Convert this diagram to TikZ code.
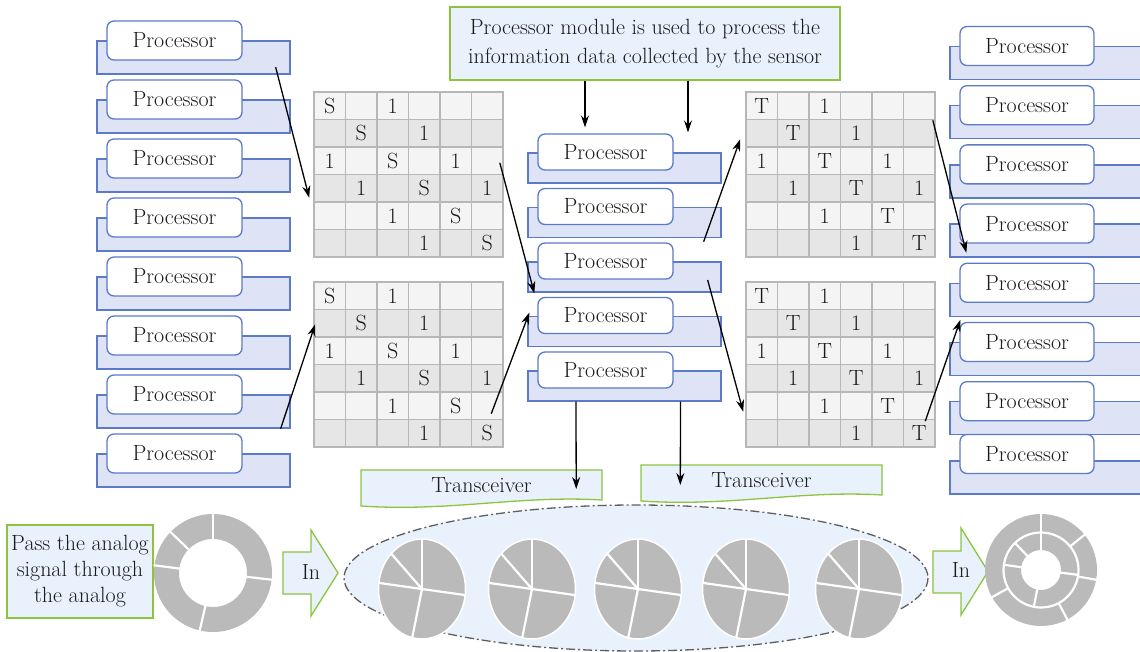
\documentclass[tikz,border=0pt]{standalone}
\usepackage{fontspec}
\usepackage{tikz}
\usetikzlibrary{arrows.meta}

\definecolor{procblue}{HTML}{5B7AC8}
\definecolor{procfill}{HTML}{DEE3F6}
\definecolor{notegreen}{HTML}{8CC43F}
\definecolor{notefill}{HTML}{E9F2FC}
\definecolor{cellA}{HTML}{F4F4F4}
\definecolor{cellB}{HTML}{E6E6E6}
\definecolor{cellline}{HTML}{B7B7B7}
\definecolor{piegray}{HTML}{BABABA}
\definecolor{ringline}{HTML}{5E5E5E}
\definecolor{ink}{HTML}{1A1A1A}

\tikzset{
  back/.style={rectangle, draw=procblue, fill=procfill, line width=1.3pt, minimum width=193pt, minimum height=33pt, inner sep=0pt},
  proc/.style={rectangle, rounded corners=7pt, draw=procblue, fill=white, line width=1.3pt, minimum width=135pt, minimum height=39pt, inner sep=0pt},
  cell/.style={rectangle, draw=cellline, line width=1.6pt, minimum width=31.5pt, minimum height=27.5pt, inner sep=0pt},
  note/.style={rectangle, draw=notegreen, fill=notefill, line width=1.3pt, align=center, inner sep=0pt},
  link/.style={-{Stealth[length=12pt,width=8pt]}, line width=1.3pt},
  sep/.style={white, line width=2.2pt},
}

\begin{document}
\begin{tikzpicture}[x=1pt, y=-1pt, font=\fontsize{22}{26}\selectfont, text=ink]
  \useasboundingbox (0,0) rectangle (1140,652);

  % Processor columns
  \foreach \i [evaluate=\i as \y using 40.5+59*(\i-1)] in {1,...,8}{
    \node[back] (LB\i) at (193.5,\y+17) {};
    \node[proc] (L\i) at (174.5,\y) {Processor};
  }
  \foreach \i/\y/\dy in {1/46/17, 2/105.2/17, 3/164.4/17, 4/223.6/17, 5/282.8/17, 6/342/17, 7/401.2/17, 8/454/23.5}{
    \node[back, minimum width=195pt] (RB\i) at (1047.5,\y+\dy) {};
    \node[proc, minimum width=134pt] (R\i) at (1027,\y) {Processor};
  }
  \foreach \i [evaluate=\i as \y using 152+54.5*(\i-1)] in {1,...,5}{
    \node[back, minimum height=30pt] (CB\i) at (624.5,\y+16) {};
    \node[proc, minimum height=36pt] (C\i) at (605.5,\y) {Processor};
  }

  % Grids
  \foreach \g/\gx/\gy/\sym in {GA/314/92/S, GB/314/282/S, GC/746/92/T, GD/746/282/T}
    \foreach \r in {0,...,5}
      \foreach \c in {0,...,5}{
        \pgfmathtruncatemacro\dist{abs(\r-\c)}
        \pgfmathtruncatemacro\rowodd{mod(\r,2)}
        \ifnum\rowodd=0 \def\cellcol{cellA}\else \def\cellcol{cellB}\fi
        \ifcase\dist \def\celltxt{\sym}\or \def\celltxt{}\or \def\celltxt{1}\else \def\celltxt{}\fi
        \node[cell, fill=\cellcol] (\g-\r-\c) at (\gx+31.5*\c+15.75, \gy+27.5*\r+13.75) {\celltxt};
      }

  % Notes
  \node[note, minimum width=390pt, minimum height=73pt, font=\fontsize{22}{29}\selectfont] (top) at (645,43.5)
    {Processor module is used to process the\\information data collected by the sensor};
  \node[note, minimum width=146pt, minimum height=93pt, font=\fontsize{22}{26}\selectfont] (pass) at (80,571.5)
    {Pass the analog\\signal through\\the analog};

  % Transceivers
  \draw[notegreen, fill=notefill, line width=1.3pt] (361,470) -- (602,470) -- (602,500)
    .. controls (520,495) and (450,512) .. (361,506) -- cycle;
  \draw[notegreen, fill=notefill, line width=1.3pt] (641,465) -- (882,465) -- (882,495)
    .. controls (800,490) and (730,507) .. (641,501) -- cycle;
  \node[minimum width=241pt, inner sep=0pt] (T1) at (481.5,485) {Transceiver};
  \node[minimum width=241pt, inner sep=0pt] (T2) at (761.5,480) {Transceiver};

  % Input arrows
  \draw[notegreen, fill=notefill, line width=1.3pt] (283,552) -- (311,552) -- (311,530) -- (338,573)
    -- (311,616) -- (311,594) -- (283,594) -- cycle;
  \node (inL) at (311,572) {In};
  \draw[notegreen, fill=notefill, line width=1.3pt] (933,551) -- (961,551) -- (961,528) -- (988,571.5)
    -- (961,615) -- (961,593) -- (933,593) -- cycle;
  \node (inR) at (961,570) {In};

  % Donut on the left
  \fill[piegray, even odd rule] (213,573) circle (59) circle (34);
  \foreach \a in {-90,-136,-172.5,103,6.5}
    \draw[sep] (213,573) ++(\a:33) -- ++(\a:27);

  % Pies inside the dashed ellipse
  \draw[ringline, fill=notefill, line width=1.3pt, dash pattern=on 9pt off 3pt on 2pt off 3pt]
    (636,578) ellipse (292 and 73);
  \foreach \px in {422,532,638,746,859}{
    \filldraw[fill=piegray, draw=white, line width=1.5pt] (\px,589) ellipse (43.5 and 50);
    \foreach \a in {-90,-135,-173,103,7}
      \draw[sep] (\px,589) -- ++(\a:43.5 and 50);
  }

  % Double ring on the right
  \fill[piegray, even odd rule] (1041,570) circle (56) circle (20);
  \draw[white, line width=2.2pt] (1041,570) circle (37.5);
  \foreach \a in {-90,-39,10,62,151}
    \draw[sep] (1041,570) ++(\a:37) -- ++(\a:20);
  \foreach \a in {-90,-134,-172,101,7.5}
    \draw[sep] (1041,570) ++(\a:19) -- ++(\a:19);

  % Arrows
  \draw[link] ([shift={(-60,0)}]top.south) -- ([shift={(-20.5,-6)}]C1.north);
  \draw[link] ([shift={(43,0)}]top.south) -- ([shift={(63.5,-20)}]CB1.north);
  \draw[link] ([shift={(-15,-7.5)}]LB1.south east) -- ([shift={(-4,-5)}]GA-3-0.south west);
  \draw[link] ([shift={(-10,0)}]LB7.south east) -- ([shift={(2,1)}]GB-1-0.west);
  \draw[link] ([shift={(-4,2)}]GA-2-5.east) -- ([shift={(-3,-3.5)}]C4.north west);
  \draw[link] ([shift={(4,8)}]GB-4-5.center) -- ([shift={(-8,-3)}]C4.west);
  \draw[link] ([shift={(-18,3.5)}]CB2.south east) -- ([shift={(-5,6)}]GC-1-0.west);
  \draw[link] ([shift={(-14,3)}]CB3.east) -- ([shift={(-2,6)}]GD-4-0.west);
  \draw[link] ([shift={(-3,0)}]GC-0-5.south east) -- ([shift={(17,-5)}]RB4.south west);
  \draw[link] ([shift={(6,2.5)}]GD-5-5.north) -- ([shift={(1,-2)}]R6.north west);
  \draw[link] ([shift={(-48.5,0)}]CB5.south) -- ([shift={(-26,4)}]T1.east);
  \draw[link] ([shift={(56,0)}]CB5.south) -- ([shift={(39.5,5)}]T2.west);
\end{tikzpicture}
\end{document}
